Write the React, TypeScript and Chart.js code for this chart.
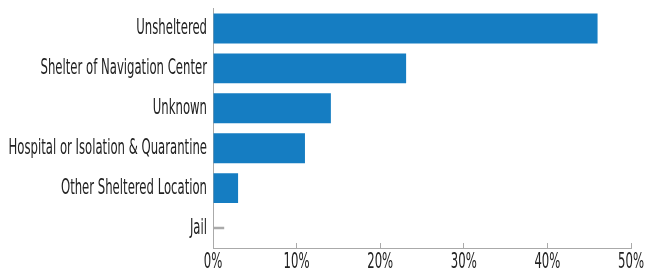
import React, { useEffect, useRef } from "react";
import { Chart, registerables } from "chart.js";

Chart.register(...registerables);

const categories = [
  "Unsheltered",
  "Shelter of Navigation Center",
  "Unknown",
  "Hospital or Isolation & Quarantine",
  "Other Sheltered Location",
  "Jail",
];
const shares = [46, 23.1, 14.1, 11, 3, 0];
const zeroMarker = [null, null, null, null, null, 1.3];
const xTicks = [0, 10, 20, 30, 40, 50];

const FONT = "'DejaVu Sans Condensed', 'DejaVu Sans', sans-serif";
const SX = 0.59;

const condensePlugin = {
  id: "condenseLabels",
  afterLayout(chart: any) {
    for (const id of ["x", "y"]) {
      const scale = chart.scales[id];
      if (!scale || scale._condensed) continue;
      const orig = scale.drawLabels.bind(scale);
      scale.drawLabels = (area: any) => {
        const ctx = scale.ctx as any;
        const ft = CanvasRenderingContext2D.prototype.fillText;
        ctx.fillText = function (text: string, x: number, y: number, maxWidth?: number) {
          this.save();
          this.translate(x, y);
          this.scale(SX, 1);
          if (maxWidth === undefined) ft.call(this, text, 0, 0);
          else ft.call(this, text, 0, 0, maxWidth / SX);
          this.restore();
        };
        try {
          orig(area);
        } finally {
          delete ctx.fillText;
        }
      };
      scale._condensed = true;
    }
  },
};

export default function App() {
  const ref = useRef<HTMLCanvasElement | null>(null);
  useEffect(() => {
    document.body.style.margin = "0";
    const canvas = ref.current;
    if (!canvas) return;
    const chart = new Chart(canvas, {
      type: "bar",
      data: {
        labels: categories,
        datasets: [
          {
            data: shares,
            backgroundColor: "#157dc2",
            barPercentage: 0.75,
            categoryPercentage: 1,
            grouped: false,
          } as any,
          {
            data: zeroMarker,
            backgroundColor: "#aaaaaa",
            barThickness: 2,
            grouped: false,
          } as any,
        ],
      },
      plugins: [condensePlugin as any],
      options: {
        indexAxis: "y",
        animation: false,
        responsive: false,
        maintainAspectRatio: false,
        layout: { padding: { top: 8.5, right: 16, left: 0, bottom: 0 } },
        plugins: { legend: { display: false }, tooltip: { enabled: false } },
        scales: {
          x: {
            type: "linear",
            min: 0,
            max: 50,
            afterBuildTicks: (scale: any) => {
              scale.ticks = xTicks.map((v) => ({ value: v }));
            },
            ticks: {
              callback: (v: any) => v + "%",
              color: "#222",
              font: { family: FONT, size: 22 },
              padding: 6,
              maxRotation: 0,
              autoSkip: false,
            },
            grid: {
              drawOnChartArea: false,
              drawTicks: true,
              tickLength: -5,
              color: "#aaaaaa",
            },
            border: { display: true, color: "#aaaaaa", width: 1 },
            afterFit: (scale: any) => {
              scale.height = 25;
              scale.paddingLeft = 0;
              scale.paddingRight = 0;
            },
          },
          y: {
            type: "category",
            ticks: {
              color: "#222",
              font: { family: FONT, size: 22 },
              padding: 6,
              autoSkip: false,
            },
            grid: { display: false, drawTicks: false },
            border: { display: true, color: "#aaaaaa", width: 1 },
            afterFit: (scale: any) => {
              scale.width = 213;
              scale.paddingTop = 0;
              scale.paddingBottom = 0;
            },
          },
        },
      },
    });
    return () => chart.destroy();
  }, []);
  return (
    <div style={{ width: 647, height: 273 }}>
      <canvas ref={ref} width={647} height={273} style={{ display: "block" }} />
    </div>
  );
}
